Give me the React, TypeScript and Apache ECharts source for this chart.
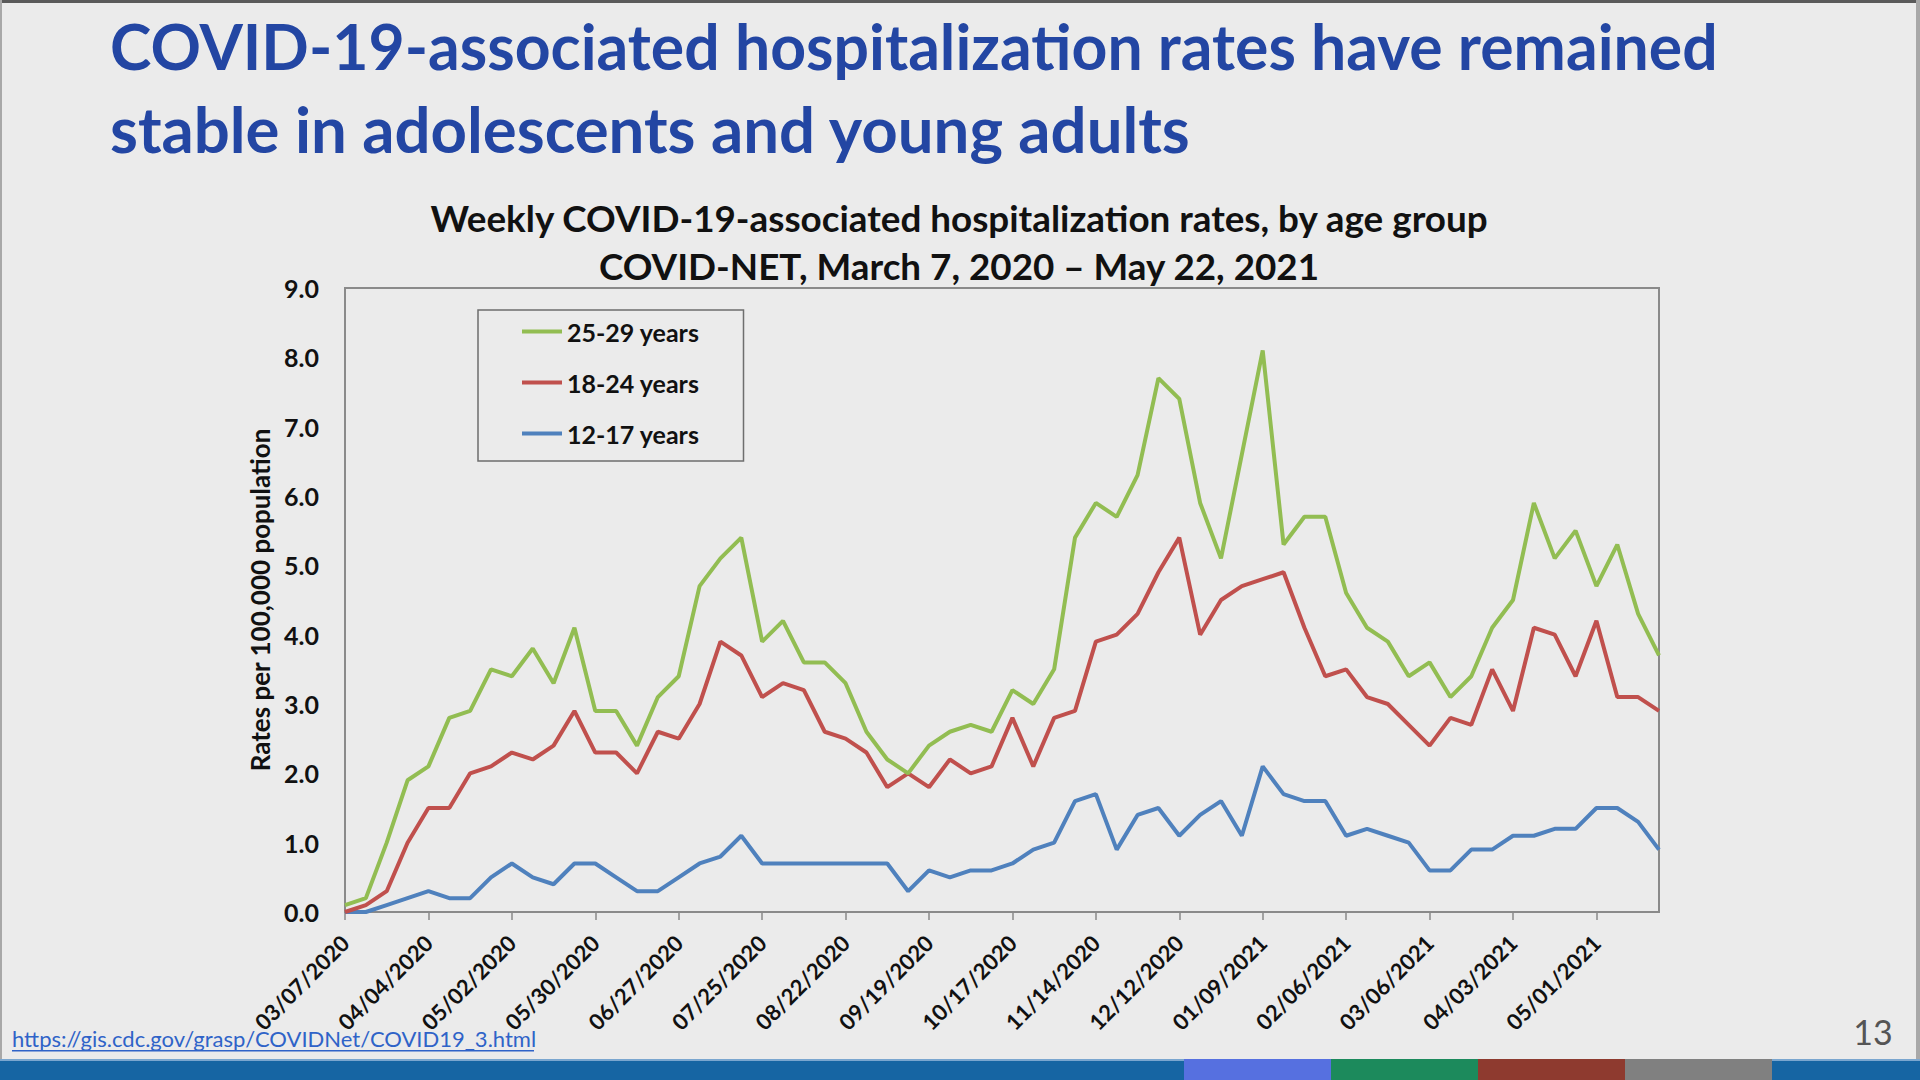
import React, { useEffect, useRef } from "react";
import * as echarts from "echarts";

const weeks = [
  "03/07/2020","03/14/2020","03/21/2020","03/28/2020","04/04/2020","04/11/2020","04/18/2020","04/25/2020",
  "05/02/2020","05/09/2020","05/16/2020","05/23/2020","05/30/2020","06/06/2020","06/13/2020","06/20/2020",
  "06/27/2020","07/04/2020","07/11/2020","07/18/2020","07/25/2020","08/01/2020","08/08/2020","08/15/2020",
  "08/22/2020","08/29/2020","09/05/2020","09/12/2020","09/19/2020","09/26/2020","10/03/2020","10/10/2020",
  "10/17/2020","10/24/2020","10/31/2020","11/07/2020","11/14/2020","11/21/2020","11/28/2020","12/05/2020",
  "12/12/2020","12/19/2020","12/26/2020","01/02/2021","01/09/2021","01/16/2021","01/23/2021","01/30/2021",
  "02/06/2021","02/13/2021","02/20/2021","02/27/2021","03/06/2021","03/13/2021","03/20/2021","03/27/2021",
  "04/03/2021","04/10/2021","04/17/2021","04/24/2021","05/01/2021","05/08/2021","05/15/2021","05/22/2021",
];

const age25to29 = [
  0.1, 0.2, 1.0, 1.9, 2.1, 2.8, 2.9, 3.5, 3.4, 3.8, 3.3, 4.1, 2.9, 2.9, 2.4, 3.1,
  3.4, 4.7, 5.1, 5.4, 3.9, 4.2, 3.6, 3.6, 3.3, 2.6, 2.2, 2.0, 2.4, 2.6, 2.7, 2.6,
  3.2, 3.0, 3.5, 5.4, 5.9, 5.7, 6.3, 7.7, 7.4, 5.9, 5.1, 6.6, 8.1, 5.3, 5.7, 5.7,
  4.6, 4.1, 3.9, 3.4, 3.6, 3.1, 3.4, 4.1, 4.5, 5.9, 5.1, 5.5, 4.7, 5.3, 4.3, 3.7,
];

const age18to24 = [
  0.0, 0.1, 0.3, 1.0, 1.5, 1.5, 2.0, 2.1, 2.3, 2.2, 2.4, 2.9, 2.3, 2.3, 2.0, 2.6,
  2.5, 3.0, 3.9, 3.7, 3.1, 3.3, 3.2, 2.6, 2.5, 2.3, 1.8, 2.0, 1.8, 2.2, 2.0, 2.1,
  2.8, 2.1, 2.8, 2.9, 3.9, 4.0, 4.3, 4.9, 5.4, 4.0, 4.5, 4.7, 4.8, 4.9, 4.1, 3.4,
  3.5, 3.1, 3.0, 2.7, 2.4, 2.8, 2.7, 3.5, 2.9, 4.1, 4.0, 3.4, 4.2, 3.1, 3.1, 2.9,
];

const age12to17 = [
  0.0, 0.0, 0.1, 0.2, 0.3, 0.2, 0.2, 0.5, 0.7, 0.5, 0.4, 0.7, 0.7, 0.5, 0.3, 0.3,
  0.5, 0.7, 0.8, 1.1, 0.7, 0.7, 0.7, 0.7, 0.7, 0.7, 0.7, 0.3, 0.6, 0.5, 0.6, 0.6,
  0.7, 0.9, 1.0, 1.6, 1.7, 0.9, 1.4, 1.5, 1.1, 1.4, 1.6, 1.1, 2.1, 1.7, 1.6, 1.6,
  1.1, 1.2, 1.1, 1.0, 0.6, 0.6, 0.9, 0.9, 1.1, 1.1, 1.2, 1.2, 1.5, 1.5, 1.3, 0.9,
];

const seriesNames = ["25-29 years", "18-24 years", "12-17 years"];
const seriesColors = ["#92bd52", "#c0504d", "#4f81bd"];

const headingLines = [
  "COVID-19-associated hospitalization rates have remained",
  "stable in adolescents and young adults",
];
const chartTitleLines = [
  "Weekly COVID-19-associated hospitalization rates, by age group",
  "COVID-NET, March 7, 2020 \u2013 May 22, 2021",
];
const sourceUrl = "https://gis.cdc.gov/grasp/COVIDNet/COVID19_3.html";
const pageNumber = "13";
const yAxisName = "Rates per 100,000 population";

export default function App() {
  const ref = useRef<HTMLDivElement>(null);

  useEffect(() => {
    if (!ref.current) return;
    const chart = echarts.init(ref.current, undefined, { renderer: "svg" });
    const font = "Lato, 'Open Sans', sans-serif";
    const values = [age25to29, age18to24, age12to17];

    const option: any = {
      animation: false,
      backgroundColor: "#ebebeb",
      textStyle: { fontFamily: font },
      grid: {
        left: 345,
        top: 288,
        width: 1314,
        height: 624,
        show: true,
        borderColor: "#8a8a8a",
        borderWidth: 2,
        backgroundColor: "transparent",
        containLabel: false,
      },
      legend: {
        orient: "vertical",
        left: 478,
        top: 310,
        data: seriesNames,
        icon: "rect",
        itemWidth: 40,
        itemHeight: 4,
        itemGap: 26,
        padding: [9, 44, 15, 44],
        borderColor: "#6e6e6e",
        borderWidth: 1.5,
        textStyle: { fontFamily: font, fontWeight: "bold", fontSize: 25, color: "#111" },
      },
      xAxis: {
        type: "category",
        data: weeks,
        boundaryGap: false,
        axisLine: { show: true, lineStyle: { color: "#8a8a8a", width: 2 } },
        axisTick: { show: true, interval: 3, length: 8, lineStyle: { color: "#8a8a8a", width: 1.5 } },
        axisLabel: {
          interval: 3,
          rotate: 45,
          margin: 27,
          fontFamily: font,
          fontWeight: "bold",
          fontSize: 22,
          color: "#111",
        },
        splitLine: { show: false },
      },
      yAxis: {
        type: "value",
        min: 0,
        max: 9,
        interval: 1,
        name: yAxisName,
        nameLocation: "middle",
        nameRotate: 90,
        nameGap: 72,
        nameTextStyle: { fontFamily: font, fontWeight: "bold", fontSize: 26, color: "#111" },
        axisLine: { show: true, lineStyle: { color: "#8a8a8a", width: 2 } },
        axisTick: { show: false },
        axisLabel: {
          margin: 26,
          fontFamily: font,
          fontWeight: "bold",
          fontSize: 25,
          color: "#111",
          formatter: (v: number) => v.toFixed(1),
        },
        splitLine: { show: false },
      },
      series: seriesNames.map((name, i) => ({
        name,
        type: "line",
        data: values[i],
        symbol: "none",
        showSymbol: false,
        lineStyle: { color: seriesColors[i], width: 4 },
        itemStyle: { color: seriesColors[i] },
        z: 3 - i,
      })),
      graphic: [
        { type: "rect", shape: { x: 0, y: 0, width: 1920, height: 3 }, style: { fill: "#5a5a5a" } },
        { type: "rect", shape: { x: 0, y: 0, width: 2, height: 1080 }, style: { fill: "#a8a8a8" } },
        { type: "rect", shape: { x: 1916, y: 0, width: 4, height: 1080 }, style: { fill: "#a8a8a8" } },
        {
          type: "text",
          x: 110,
          y: 45,
          style: {
            text: headingLines[0],
            fontFamily: font,
            fontWeight: "bold",
            fontSize: 62.5,
            fill: "#2346a3",
            verticalAlign: "middle",
            align: "left",
          },
        },
        {
          type: "text",
          x: 110,
          y: 128,
          style: {
            text: headingLines[1],
            fontFamily: font,
            fontWeight: "bold",
            fontSize: 63.5,
            fill: "#2346a3",
            verticalAlign: "middle",
            align: "left",
          },
        },
        {
          type: "text",
          x: 959,
          y: 218,
          style: {
            text: chartTitleLines[0],
            fontFamily: font,
            fontWeight: "bold",
            fontSize: 36.8,
            fill: "#111",
            align: "center",
            verticalAlign: "middle",
          },
        },
        {
          type: "text",
          x: 959,
          y: 266,
          style: {
            text: chartTitleLines[1],
            fontFamily: font,
            fontWeight: "bold",
            fontSize: 36.8,
            fill: "#111",
            align: "center",
            verticalAlign: "middle",
          },
        },
        {
          type: "text",
          x: 12,
          y: 1038,
          style: {
            text: sourceUrl,
            fontFamily: font,
            fontSize: 22,
            fill: "#2f63c8",
            align: "left",
            verticalAlign: "middle",
          },
        },
        { type: "rect", shape: { x: 12, y: 1050, width: 522, height: 1.5 }, style: { fill: "#2f63c8" } },
        {
          type: "text",
          x: 1873,
          y: 1031,
          style: {
            text: pageNumber,
            fontFamily: font,
            fontSize: 34,
            fill: "#555",
            align: "center",
            verticalAlign: "middle",
          },
        },
        { type: "rect", shape: { x: 0, y: 1059, width: 1920, height: 21 }, style: { fill: "#1665a3" } },
        { type: "rect", shape: { x: 0, y: 1059, width: 1920, height: 2 }, style: { fill: "#7aa6cf" } },
        { type: "rect", shape: { x: 1184, y: 1059, width: 147, height: 21 }, style: { fill: "#5670e0" } },
        { type: "rect", shape: { x: 1331, y: 1059, width: 147, height: 21 }, style: { fill: "#1c8a5c" } },
        { type: "rect", shape: { x: 1478, y: 1059, width: 147, height: 21 }, style: { fill: "#8e3a2f" } },
        { type: "rect", shape: { x: 1625, y: 1059, width: 147, height: 21 }, style: { fill: "#808080" } },
      ],
    };

    chart.setOption(option);
    return () => chart.dispose();
  }, []);

  return (
    <div
      ref={ref}
      style={{ position: "fixed", left: 0, top: 0, width: 1920, height: 1080, background: "#ebebeb" }}
    />
  );
}
